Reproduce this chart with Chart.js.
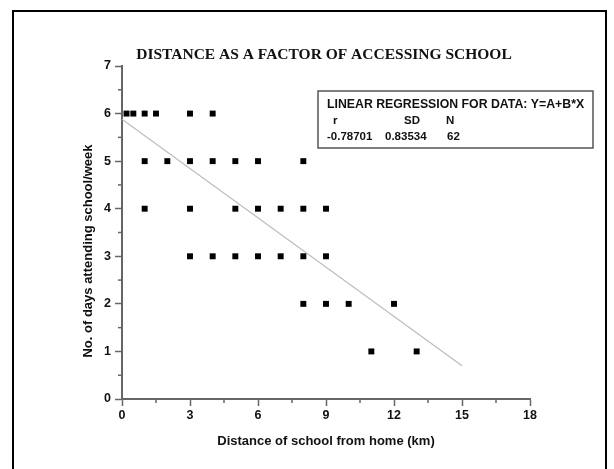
<!DOCTYPE html>
<html>
<head>
<meta charset="utf-8">
<script src="https://cdn.jsdelivr.net/npm/chart.js@4.4.1/dist/chart.umd.min.js"></script>
<style>
  html, body { margin: 0; padding: 0; background: #fff; overflow: hidden; }
  #wrap { position: relative; width: 614px; height: 469px; }
  #frame { position: absolute; left: 12px; top: 10px; width: 595px; height: 470px; border: 2px solid #000; box-sizing: border-box; pointer-events: none; }
  canvas { position: absolute; left: 0; top: 0; }
</style>
</head>
<body>
<div id="wrap">
  <canvas id="chart" width="614" height="469"></canvas>
  <div id="frame"></div>
</div>
<script>
// données (distance km, jours/semaine)
const distKm = [0.2, 0.5, 1, 1.5, 3, 4,
                1, 2, 3, 4, 5, 6, 8,
                1, 3, 5, 6, 7, 8, 9,
                3, 4, 5, 6, 7, 8, 9,
                8, 9, 10, 12,
                11, 13];
const daysWeek = [6, 6, 6, 6, 6, 6,
                  5, 5, 5, 5, 5, 5, 5,
                  4, 4, 4, 4, 4, 4, 4,
                  3, 3, 3, 3, 3, 3, 3,
                  2, 2, 2, 2,
                  1, 1];
// droite de régression (extrémités lues)
const fitX = [0, 15];
const fitY = [5.88, 0.70];

const xTicks = [0, 3, 6, 9, 12, 15, 18];
const yTicks = [0, 1, 2, 3, 4, 5, 6, 7];
const xMinor = [1.5, 4.5, 7.5, 10.5, 13.5, 16.5];
const yMinor = [0.5, 1.5, 2.5, 3.5, 4.5, 5.5, 6.5];

const chartTitle = 'DISTANCE AS A FACTOR OF ACCESSING SCHOOL';
const xTitle = 'Distance of school from home (km)';
const yTitle = 'No. of days attending school/week';
const statsHeader = 'LINEAR REGRESSION FOR DATA: Y=A+B*X';
const statsLabels = ['r', 'SD', 'N'];
const statsValues = ['-0.78701', '0.83534', '62'];

const axisColor = '#666';

// ticks mineurs + titres + encadré des stats
const extrasPlugin = {
    id: 'extras',
    afterDraw(chart) {
        const ctx = chart.ctx;
        const xs = chart.scales.x, ys = chart.scales.y;
        ctx.save();
        ctx.strokeStyle = axisColor;
        ctx.lineWidth = 1.5;
        xMinor.forEach(v => {
            const px = xs.getPixelForValue(v);
            ctx.beginPath(); ctx.moveTo(px, ys.bottom); ctx.lineTo(px, ys.bottom + 4); ctx.stroke();
        });
        yMinor.forEach(v => {
            const py = ys.getPixelForValue(v);
            ctx.beginPath(); ctx.moveTo(xs.left, py); ctx.lineTo(xs.left - 4, py); ctx.stroke();
        });

        ctx.fillStyle = '#111';
        ctx.textAlign = 'center';
        ctx.textBaseline = 'middle';
        ctx.font = 'bold 15.5px "Liberation Serif", "Times New Roman", serif';
        ctx.fillText(chartTitle, 324, 55);

        ctx.font = 'bold 13px "Liberation Sans", Arial, sans-serif';
        ctx.fillText(xTitle, 326, 441);
        ctx.save();
        ctx.translate(88, 251);
        ctx.rotate(-Math.PI / 2);
        ctx.fillText(yTitle, 0, 0);
        ctx.restore();

        // encadré régression
        ctx.strokeStyle = '#555';
        ctx.lineWidth = 1.5;
        ctx.strokeRect(318, 91, 275, 57);
        ctx.font = 'bold 12.3px "Liberation Sans", Arial, sans-serif';
        ctx.textBaseline = 'alphabetic';
        ctx.textAlign = 'left';
        ctx.fillText(statsHeader, 327, 108, 260);
        ctx.font = 'bold 11.5px "Liberation Sans", Arial, sans-serif';
        const colX = [333, 404, 446];
        statsLabels.forEach((s, i) => ctx.fillText(s, colX[i], 124));
        const valX = [327, 385, 447];
        statsValues.forEach((s, i) => ctx.fillText(s, valX[i], 140));
        ctx.restore();
    }
};

new Chart(document.getElementById('chart'), {
    type: 'scatter',
    data: {
        datasets: [{
            label: 'data',
            data: distKm.map((x, i) => ({ x: x, y: daysWeek[i] })),
            pointStyle: 'rect',
            pointRadius: 4.2,
            backgroundColor: '#000',
            borderColor: '#000',
            borderWidth: 0
        }, {
            label: 'fit',
            type: 'line',
            data: fitX.map((x, i) => ({ x: x, y: fitY[i] })),
            borderColor: '#bdbdbd',
            borderWidth: 1.2,
            pointRadius: 0,
            fill: false
        }]
    },
    options: {
        responsive: false,
        animation: false,
        layout: { padding: { top: 66, right: 84, left: 0, bottom: 0 } },
        plugins: { legend: { display: false }, title: { display: false }, tooltip: { enabled: false } },
        scales: {
            x: {
                type: 'linear', min: 0, max: 18,
                afterFit: s => { s.height = 70; },
                afterBuildTicks: s => { s.ticks = xTicks.map(v => ({ value: v })); },
                border: { display: true, color: axisColor, width: 2 },
                grid: { display: true, drawOnChartArea: false, drawTicks: true, tickLength: 7, tickColor: axisColor, tickWidth: 1.5 },
                ticks: { color: '#111', font: { family: '"Liberation Sans", Arial, sans-serif', size: 12.5, weight: 'bold' }, padding: 2, maxRotation: 0 }
            },
            y: {
                type: 'linear', min: 0, max: 7,
                afterFit: s => { s.width = 122; },
                afterBuildTicks: s => { s.ticks = yTicks.map(v => ({ value: v })); },
                border: { display: true, color: axisColor, width: 2 },
                grid: { display: true, drawOnChartArea: false, drawTicks: true, tickLength: 7, tickColor: axisColor, tickWidth: 1.5 },
                ticks: { color: '#111', font: { family: '"Liberation Sans", Arial, sans-serif', size: 12.5, weight: 'bold' }, padding: 4 }
            }
        }
    },
    plugins: [extrasPlugin]
});
</script>
</body>
</html>
